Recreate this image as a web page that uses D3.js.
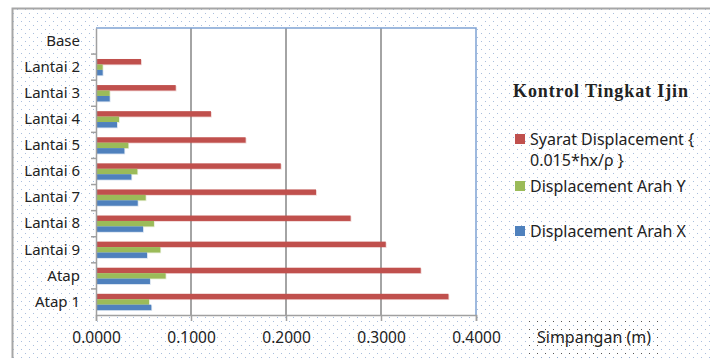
<!DOCTYPE html>
<html>
<head>
<meta charset="utf-8">
<script src="https://cdn.jsdelivr.net/npm/d3@7"></script>
<style>
  body { margin: 0; background: #fff; }
  svg text { font-family: "Noto Sans", sans-serif; fill: #222; }
</style>
</head>
<body>
<div id="app"></div>
<script>
const W = 710;
const H = 358;

// categories top to bottom
const levels = ["Base", "Lantai 2", "Lantai 3", "Lantai 4", "Lantai 5", "Lantai 6",
  "Lantai 7", "Lantai 8", "Lantai 9", "Atap", "Atap 1"];
const syarat = [0, 0.0474, 0.0839, 0.1210, 0.1575, 0.1945, 0.2316, 0.2680, 0.3050, 0.3418, 0.3710];
const dispY = [0, 0.0070, 0.0144, 0.0242, 0.0340, 0.0435, 0.0523, 0.0610, 0.0677, 0.0733, 0.0558];
const dispX = [0, 0.0070, 0.0144, 0.0221, 0.0298, 0.0372, 0.0439, 0.0495, 0.0537, 0.0568, 0.0582];
const xTicks = [0, 0.1, 0.2, 0.3, 0.4];

const series = [
  { name: "Syarat Displacement {", name2: "0.015*hx/\u03c1 }", color: "#C0504D", values: syarat },
  { name: "Displacement Arah Y", color: "#9BBB59", values: dispY },
  { name: "Displacement Arah X", color: "#4F81BD", values: dispX }
];

const plot = { left: 96, right: 476, top: 28, bottom: 315 };

const svg = d3.select("#app").append("svg").attr("width", W).attr("height", H);

// dotted background patterns
const defs = svg.append("defs");
const pat = defs.append("pattern").attr("id", "dots")
  .attr("width", 8).attr("height", 8).attr("patternUnits", "userSpaceOnUse");
pat.append("rect").attr("x", 1).attr("y", 1).attr("width", 1).attr("height", 1).attr("fill", "#a9bedd");
pat.append("rect").attr("x", 5).attr("y", 5).attr("width", 1).attr("height", 1).attr("fill", "#a9bedd");
const pat2 = defs.append("pattern").attr("id", "dots2")
  .attr("width", 8).attr("height", 8).attr("patternUnits", "userSpaceOnUse");
pat2.append("rect").attr("x", 1).attr("y", 1).attr("width", 1).attr("height", 1).attr("fill", "#555");
pat2.append("rect").attr("x", 5).attr("y", 5).attr("width", 1).attr("height", 1).attr("fill", "#8aa6cc");

svg.append("rect").attr("x", 12).attr("y", 8).attr("width", W).attr("height", H)
  .attr("fill", "url(#dots)");
svg.append("path").attr("d", `M12.5,${H}V8.5H${W}`)
  .attr("fill", "none").attr("stroke", "#a6a6a6").attr("stroke-width", 2);

// axis title box
svg.append("rect").attr("x", 526).attr("y", 318).attr("width", 134).attr("height", 40)
  .attr("fill", "#fff");
svg.append("rect").attr("x", 526).attr("y", 318).attr("width", 134).attr("height", 40)
  .attr("fill", "url(#dots2)");

// plot area
svg.append("rect")
  .attr("x", plot.left).attr("y", plot.top)
  .attr("width", plot.right - plot.left).attr("height", plot.bottom - plot.top)
  .attr("fill", "#fff");

const x = d3.scaleLinear().domain([0, 0.4]).range([plot.left, plot.right]);
const y0 = d3.scaleBand().domain(levels).range([plot.top, plot.bottom]);
const y1 = d3.scaleBand().domain(series.map((s) => s.name))
  .range([0, y0.bandwidth()]).paddingOuter(0.9);

// gridlines
svg.append("g").selectAll("line")
  .data(xTicks.slice(1, -1))
  .enter().append("line")
  .attr("x1", (d) => x(d)).attr("x2", (d) => x(d))
  .attr("y1", plot.top).attr("y2", plot.bottom)
  .attr("stroke", "#868686").attr("stroke-width", 1.5);

// plot border (top/right blue)
svg.append("path")
  .attr("d", `M${plot.left},${plot.top}H${plot.right}V${plot.bottom}`)
  .attr("fill", "none").attr("stroke", "#7fa3d4").attr("stroke-width", 1.5);

// bars
series.forEach((s) => {
  const g = svg.append("g");
  g.selectAll("rect.shadow")
    .data(levels)
    .enter().append("rect")
    .attr("x", x(0))
    .attr("y", (d) => y0(d) + y1(s.name) + 0.8)
    .attr("width", (d, i) => x(s.values[i]) - x(0) + 0.8)
    .attr("height", y1.bandwidth())
    .attr("fill", s.color).attr("opacity", 0.25);
  g.selectAll("rect.bar")
    .data(levels)
    .enter().append("rect")
    .attr("x", x(0))
    .attr("y", (d) => y0(d) + y1(s.name))
    .attr("width", (d, i) => x(s.values[i]) - x(0))
    .attr("height", y1.bandwidth())
    .attr("fill", s.color);
});

// x axis
const xAxis = d3.axisBottom(x).tickValues(xTicks).tickFormat(d3.format(".4f"))
  .tickSize(6).tickPadding(11);
const gx = svg.append("g").attr("transform", `translate(0,${plot.bottom})`).call(xAxis);
gx.select(".domain").attr("stroke", "#a0a0a0").attr("stroke-width", 1.5);
gx.selectAll(".tick line").attr("stroke", "#a0a0a0").attr("stroke-width", 1.5);
gx.selectAll("text").attr("font-size", 15.5).attr("fill", "#222")
  .style("font-family", "Noto Sans");

// y axis
const yAxis = d3.axisLeft(y0).tickSize(0).tickPadding(16);
const gy = svg.append("g").attr("transform", `translate(${plot.left},0)`).call(yAxis);
gy.select(".domain").attr("stroke", "#a0a0a0").attr("stroke-width", 1.5);
gy.selectAll("text").attr("font-size", 15).attr("fill", "#222")
  .style("font-family", "Noto Sans");
// category separator ticks
svg.append("g").selectAll("line")
  .data(levels.slice(1))
  .enter().append("line")
  .attr("x1", plot.left - 5).attr("x2", plot.left)
  .attr("y1", (d) => y0(d)).attr("y2", (d) => y0(d))
  .attr("stroke", "#a0a0a0").attr("stroke-width", 1.5);

// legend
const leg = svg.append("g");
leg.append("text").attr("x", 513).attr("y", 97)
  .style("font-family", "'Liberation Serif', serif")
  .attr("font-weight", "bold").attr("font-size", 18).attr("fill", "#000")
  .attr("textLength", 175).attr("lengthAdjust", "spacing")
  .text("Kontrol Tingkat Ijin");
const legY = [139, 186, 231];
series.forEach((s, i) => {
  leg.append("rect").attr("x", 515).attr("y", legY[i] - 5).attr("width", 10).attr("height", 10)
    .attr("fill", s.color);
  leg.append("text").attr("x", 530).attr("y", legY[i]).attr("dy", "0.35em")
    .attr("font-size", 16).text(s.name);
  if (s.name2) {
    leg.append("text").attr("x", 530).attr("y", legY[i] + 21).attr("dy", "0.35em")
      .attr("font-size", 16).text(s.name2);
  }
});

// axis title
svg.append("text").attr("x", 537).attr("y", 337).attr("dy", "0.35em")
  .attr("font-size", 16).text("Simpangan (m)");
</script>
</body>
</html>
